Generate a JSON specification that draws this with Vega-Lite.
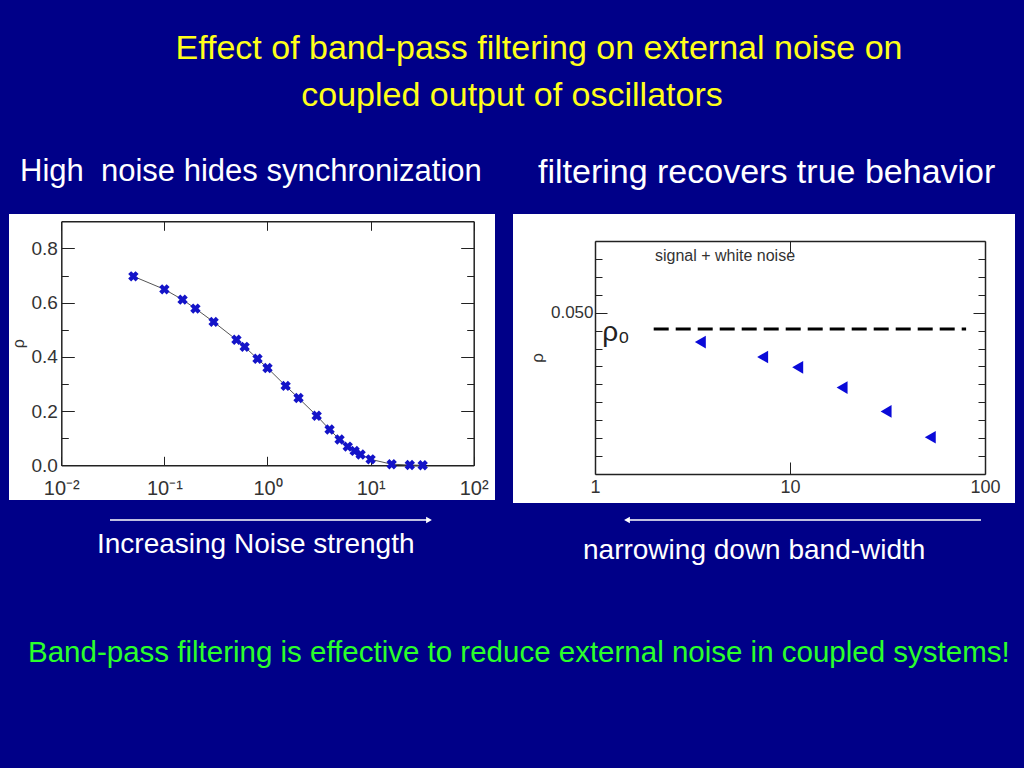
{
  "$schema": "https://vega.github.io/schema/vega-lite/v6.json",
  "background": "#000088",
  "padding": {"left": 9, "right": 9, "top": 31, "bottom": 100},
  "config": {
    "font": "Liberation Sans",
    "view": {"stroke": null},
    "title": {"font": "Liberation Sans", "fontWeight": "normal"}
  },
  "title": {"text": "Effect of band-pass filtering on external noise on", "anchor": "middle", "dx": 27, "fontSize": 34, "color": "#ffff1a", "offset": 13},
  "spacing": 7,
  "vconcat": [
    {
      "title": {"text": "coupled output of oscillators", "anchor": "middle", "fontSize": 34, "color": "#ffff1a", "offset": 43},
      "spacing": 18,
      "bounds": "flush",
      "hconcat": [
        {
          "width": 486,
          "height": 286,
          "view": {"fill": "white", "stroke": null},
          "title": {"text": "High\u00a0 noise hides synchronization", "anchor": "start", "dx": 11, "fontSize": 31, "color": "white", "offset": 26.5},
          "data": {"values": [
            {"noise": 0.05, "rho": 0.697}, {"noise": 0.1, "rho": 0.649}, {"noise": 0.15, "rho": 0.611},
            {"noise": 0.2, "rho": 0.578}, {"noise": 0.3, "rho": 0.529}, {"noise": 0.5, "rho": 0.463},
            {"noise": 0.6, "rho": 0.437}, {"noise": 0.8, "rho": 0.393}, {"noise": 1.0, "rho": 0.359},
            {"noise": 1.5, "rho": 0.293}, {"noise": 2.0, "rho": 0.248}, {"noise": 3.0, "rho": 0.183},
            {"noise": 4.0, "rho": 0.132}, {"noise": 5.0, "rho": 0.095}, {"noise": 6.0, "rho": 0.069},
            {"noise": 7.0, "rho": 0.053}, {"noise": 8.0, "rho": 0.040}, {"noise": 10.0, "rho": 0.022},
            {"noise": 16.0, "rho": 0.004}, {"noise": 24.0, "rho": 0.001}, {"noise": 32.0, "rho": 0.0}
          ]},
          "layer": [
            {
              "mark": {"type": "line", "color": "#555555", "strokeWidth": 1},
              "encoding": {
                "x": {"field": "noise", "type": "quantitative",
                  "scale": {"type": "log", "domain": [0.01, 100], "range": [52.3, 464.7]},
                  "axis": {"orient": "bottom", "offset": -34.7, "title": null, "values": [0.01, 0.1, 1, 10, 100],
                    "labelExpr": "datum.value < 0.05 ? '10⁻²' : datum.value < 0.5 ? '10⁻¹' : datum.value < 5 ? '10⁰' : datum.value < 50 ? '10¹' : '10²'",
                    "labelFlush": false, "tickSize": -9, "labelPadding": 22, "tickColor": "#222", "domainColor": "#222", "domainWidth": 1.5, "labelColor": "#333", "labelFontSize": 20, "grid": false}},
                "y": {"field": "rho", "type": "quantitative",
                  "scale": {"domain": [0, 0.877], "range": [251.3, 7.3]},
                  "axis": {"orient": "left", "offset": -52.3, "title": "ρ", "titleFontSize": 16, "titleFontWeight": "normal", "titleColor": "#333", "values": [0, 0.1, 0.2, 0.3, 0.4, 0.5, 0.6, 0.7, 0.8],
                    "labelExpr": "round(datum.value*10) % 2 == 0 ? format(datum.value, '.1f') : ''",
                    "tickSize": {"condition": {"test": "round(datum.value*10) % 2 == 0", "value": -13}, "value": -7},
                    "labelFlush": false, "labelPadding": 17, "tickColor": "#222", "domainColor": "#222", "domainWidth": 1.5, "labelColor": "#333", "labelFontSize": 19, "grid": false}}
              }
            },
            {
              "mark": {"type": "point", "shape": "cross", "angle": 45, "filled": true, "color": "#1414c8", "size": 110, "opacity": 1},
              "encoding": {
                "x": {"field": "noise", "type": "quantitative", "axis": null},
                "y": {"field": "rho", "type": "quantitative", "axis": null}
              }
            },
            {
              "mark": {"type": "point", "opacity": 0},
              "encoding": {
                "x": {"field": "noise", "type": "quantitative",
                  "axis": {"orient": "top", "offset": -7.3, "title": null, "values": [0.01, 0.1, 1, 10, 100], "labels": false, "tickSize": -9, "tickColor": "#222", "domainColor": "#222", "domainWidth": 1.5, "grid": false}},
                "y": {"field": "rho", "type": "quantitative",
                  "axis": {"orient": "right", "offset": -21.3, "title": null, "values": [0, 0.1, 0.2, 0.3, 0.4, 0.5, 0.6, 0.7, 0.8], "labels": false,
                    "tickSize": {"condition": {"test": "round(datum.value*10) % 2 == 0", "value": -13}, "value": -7},
                    "tickColor": "#222", "domainColor": "#222", "domainWidth": 1.5, "grid": false}}
              }
            }
          ],
          "resolve": {"axis": {"x": "independent", "y": "independent"}}
        },
        {
          "width": 502,
          "height": 289,
          "view": {"fill": "white", "stroke": null},
          "title": {"text": "filtering recovers true behavior", "anchor": "start", "dx": 25, "fontSize": 34, "color": "white", "offset": 24},
          "layer": [
            {
              "data": {"values": [
                {"bandwidth": 3.47, "rho": 0.04836}, {"bandwidth": 7.24, "rho": 0.04753}, {"bandwidth": 10.95, "rho": 0.04695},
                {"bandwidth": 18.5, "rho": 0.04582}, {"bandwidth": 31.1, "rho": 0.04449}, {"bandwidth": 52.4, "rho": 0.04305}
              ]},
              "mark": {"type": "point", "shape": "triangle-left", "filled": true, "color": "#0a0ad8", "size": 160, "opacity": 1},
              "encoding": {
                "x": {"field": "bandwidth", "type": "quantitative",
                  "scale": {"type": "log", "domain": [1, 100], "range": [82, 472]},
                  "axis": {"orient": "bottom", "offset": -29, "title": null, "values": [1, 10, 100], "format": "d",
                    "labelFlush": false, "tickSize": -12, "labelPadding": 16, "tickColor": "#222", "domainColor": "#222", "domainWidth": 1.5, "labelColor": "#333", "labelFontSize": 18, "grid": false}},
                "y": {"field": "rho", "type": "quantitative",
                  "scale": {"domain": [0.041164, 0.053873], "range": [260, 27]},
                  "axis": {"orient": "left", "offset": -82, "title": "ρ", "titleFontSize": 17, "titleFontWeight": "normal", "titleColor": "#333",
                    "values": [0.042, 0.043, 0.044, 0.045, 0.046, 0.047, 0.048, 0.049, 0.05, 0.051, 0.052, 0.053],
                    "labelExpr": "abs(datum.value - 0.05) < 0.0000001 ? '0.050' : ''",
                    "tickSize": {"condition": {"test": "abs(datum.value - 0.05) < 0.0000001", "value": -12}, "value": -7},
                    "labelFlush": false, "labelPadding": 14, "tickColor": "#222", "domainColor": "#222", "domainWidth": 1.5, "labelColor": "#333", "labelFontSize": 17, "grid": false}}
              }
            },
            {
              "data": {"values": [
                {"bandwidth": 3.47, "rho": 0.04836}, {"bandwidth": 52.4, "rho": 0.04305}
              ]},
              "mark": {"type": "point", "opacity": 0},
              "encoding": {
                "x": {"field": "bandwidth", "type": "quantitative",
                  "axis": {"orient": "top", "offset": -27, "title": null, "values": [1, 10, 100], "labels": false, "tickSize": -12, "tickColor": "#222", "domainColor": "#222", "domainWidth": 1.5, "grid": false}},
                "y": {"field": "rho", "type": "quantitative",
                  "axis": {"orient": "right", "offset": -30, "title": null, "labels": false,
                    "values": [0.042, 0.043, 0.044, 0.045, 0.046, 0.047, 0.048, 0.049, 0.05, 0.051, 0.052, 0.053],
                    "tickSize": {"condition": {"test": "abs(datum.value - 0.05) < 0.0000001", "value": -12}, "value": -7},
                    "tickColor": "#222", "domainColor": "#222", "domainWidth": 1.5, "grid": false}}
              }
            },
            {
              "data": {"values": [{"label": "ρ₀", "from": 2.0, "to": 80.0, "rho": 0.04909}]},
              "layer": [
                {
                  "mark": {"type": "rule", "color": "black", "strokeWidth": 3, "strokeDash": [15, 7]},
                  "encoding": {
                    "x": {"field": "from", "type": "quantitative", "axis": null},
                    "x2": {"field": "to"},
                    "y": {"field": "rho", "type": "quantitative", "axis": null}
                  }
                },
                {
                  "mark": {"type": "text", "align": "right", "baseline": "middle", "dx": -24, "dy": 4, "fontSize": 28, "color": "#222"},
                  "encoding": {
                    "x": {"field": "from", "type": "quantitative", "axis": null},
                    "y": {"field": "rho", "type": "quantitative", "axis": null},
                    "text": {"field": "label"}
                  }
                }
              ]
            },
            {
              "data": {"values": [{"note": "signal + white noise", "bandwidth": 2.03, "rho": 0.05316}]},
              "mark": {"type": "text", "align": "left", "baseline": "middle", "fontSize": 16, "color": "#333"},
              "encoding": {
                "x": {"field": "bandwidth", "type": "quantitative", "axis": null},
                "y": {"field": "rho", "type": "quantitative", "axis": null},
                "text": {"field": "note"}
              }
            }
          ],
          "resolve": {"axis": {"x": "independent", "y": "independent"}}
        }
      ]
    },
    {
      "title": {"text": "Band-pass filtering is effective to reduce external noise in coupled systems!", "orient": "bottom", "anchor": "start", "dx": 19, "fontSize": 29.5, "color": "#2bff2b", "offset": 74},
      "spacing": 18,
      "bounds": "flush",
      "hconcat": [
        {
          "width": 486,
          "height": 20,
          "title": {"text": "Increasing Noise strength", "orient": "bottom", "anchor": "start", "dx": 88, "fontSize": 28, "color": "white", "offset": 1},
          "data": {"values": [{"arrow": "noise strength", "tail": 0, "head": 1, "lane": 0}]},
          "layer": [
            {
              "mark": {"type": "rule", "color": "white", "strokeWidth": 1.5},
              "encoding": {
                "x": {"field": "tail", "type": "quantitative", "scale": {"domain": [0, 1], "range": [101, 420]}, "axis": null},
                "x2": {"field": "head"},
                "y": {"field": "lane", "type": "quantitative", "scale": {"domain": [-1, 1]}, "axis": null}
              }
            },
            {
              "mark": {"type": "point", "shape": "triangle-right", "filled": true, "color": "white", "size": 45, "opacity": 1},
              "encoding": {
                "x": {"field": "head", "type": "quantitative", "axis": null},
                "y": {"field": "lane", "type": "quantitative", "axis": null}
              }
            }
          ]
        },
        {
          "width": 502,
          "height": 20,
          "title": {"text": "narrowing down band-width", "orient": "bottom", "anchor": "start", "dx": 70, "fontSize": 28, "color": "white", "offset": 7},
          "data": {"values": [{"arrow": "band-width", "tail": 1, "head": 0, "lane": 0}]},
          "layer": [
            {
              "mark": {"type": "rule", "color": "white", "strokeWidth": 1.5},
              "encoding": {
                "x": {"field": "tail", "type": "quantitative", "scale": {"domain": [0, 1], "range": [114, 468]}, "axis": null},
                "x2": {"field": "head"},
                "y": {"field": "lane", "type": "quantitative", "scale": {"domain": [-1, 1]}, "axis": null}
              }
            },
            {
              "mark": {"type": "point", "shape": "triangle-left", "filled": true, "color": "white", "size": 45, "opacity": 1},
              "encoding": {
                "x": {"field": "head", "type": "quantitative", "axis": null},
                "y": {"field": "lane", "type": "quantitative", "axis": null}
              }
            }
          ]
        }
      ]
    }
  ]
}
